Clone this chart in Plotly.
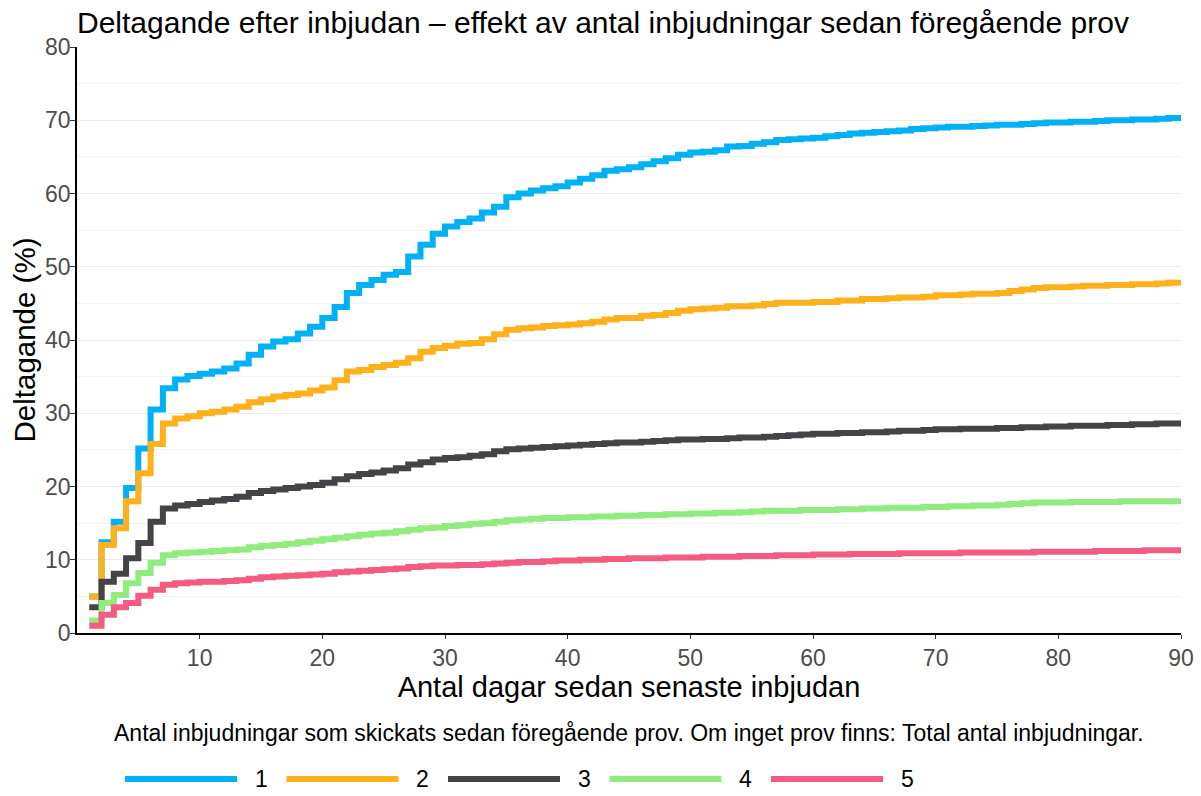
import plotly.graph_objects as go

days = list(range(1, 91))

series_names = ["1", "2", "3", "4", "5"]
series_colors = ["#00B2F5", "#FFB11B", "#434348", "#90ED7D", "#F45B80"]

v1 = [5.0, 12.4, 15.2, 19.8, 25.2, 30.5, 33.4, 34.6, 35.1, 35.4,
      35.7, 36.1, 36.8, 38.0, 39.1, 39.8, 40.1, 40.9, 41.8, 43.0,
      44.5, 46.4, 47.5, 48.2, 48.9, 49.3, 51.4, 53.0, 54.5, 55.5,
      56.1, 56.6, 57.4, 58.2, 59.5, 60.0, 60.4, 60.7, 61.0, 61.5,
      62.0, 62.5, 63.1, 63.3, 63.6, 64.0, 64.4, 64.8, 65.3, 65.6,
      65.7, 65.9, 66.4, 66.5, 66.8, 67.0, 67.3, 67.4, 67.5, 67.6,
      67.8, 68.0, 68.2, 68.3, 68.4, 68.5, 68.6, 68.8, 68.9, 69.0,
      69.1, 69.1, 69.2, 69.3, 69.4, 69.4, 69.5, 69.6, 69.7, 69.7,
      69.8, 69.8, 69.9, 70.0, 70.0, 70.1, 70.1, 70.2, 70.3, 70.3]

v2 = [5.0, 12.0, 14.3, 18.0, 21.8, 25.8, 28.6, 29.3, 29.6, 30.0,
      30.2, 30.5, 30.9, 31.5, 31.9, 32.3, 32.5, 32.7, 33.1, 33.5,
      34.5, 35.7, 35.9, 36.3, 36.6, 36.9, 37.5, 38.4, 38.9, 39.2,
      39.5, 39.6, 40.1, 40.8, 41.4, 41.6, 41.7, 41.9, 42.0, 42.1,
      42.3, 42.5, 42.8, 43.0, 43.0, 43.3, 43.4, 43.7, 44.0, 44.2,
      44.3, 44.4, 44.6, 44.6, 44.7, 44.9, 45.1, 45.1, 45.1, 45.2,
      45.2, 45.4, 45.4, 45.6, 45.6, 45.7, 45.8, 45.8, 45.9, 46.1,
      46.1, 46.2, 46.3, 46.3, 46.4, 46.7, 46.9, 47.1, 47.2, 47.2,
      47.3, 47.4, 47.4, 47.5, 47.5, 47.6, 47.6, 47.7, 47.8, 47.9]

v3 = [3.5, 7.0, 8.1, 10.2, 12.3, 15.2, 17.0, 17.4, 17.6, 17.9,
      18.1, 18.3, 18.6, 19.1, 19.4, 19.6, 19.8, 20.0, 20.2, 20.5,
      21.0, 21.4, 21.7, 21.9, 22.2, 22.5, 23.0, 23.3, 23.7, 23.9,
      24.0, 24.2, 24.4, 24.8, 25.1, 25.2, 25.3, 25.4, 25.5, 25.6,
      25.7, 25.8, 25.9, 26.0, 26.0, 26.1, 26.2, 26.3, 26.4, 26.4,
      26.5, 26.5, 26.6, 26.7, 26.7, 26.8, 26.9, 27.0, 27.1, 27.2,
      27.2, 27.3, 27.3, 27.4, 27.4, 27.5, 27.6, 27.6, 27.7, 27.8,
      27.8, 27.9, 27.9, 27.9, 28.0, 28.0, 28.1, 28.1, 28.2, 28.2,
      28.3, 28.3, 28.3, 28.4, 28.4, 28.5, 28.5, 28.6, 28.6, 28.7]

v4 = [1.7, 4.1, 5.2, 6.8, 8.2, 9.6, 10.6, 10.9, 11.0, 11.1,
      11.2, 11.3, 11.4, 11.7, 11.9, 12.0, 12.2, 12.4, 12.6, 12.8,
      13.0, 13.2, 13.4, 13.6, 13.7, 13.9, 14.1, 14.3, 14.4, 14.6,
      14.7, 14.9, 15.0, 15.2, 15.4, 15.5, 15.6, 15.7, 15.7, 15.8,
      15.8, 15.9, 15.9, 16.0, 16.0, 16.1, 16.1, 16.2, 16.2, 16.3,
      16.3, 16.4, 16.4, 16.5, 16.6, 16.7, 16.7, 16.7, 16.8, 16.8,
      16.8, 16.9, 16.9, 17.0, 17.0, 17.1, 17.1, 17.1, 17.2, 17.2,
      17.3, 17.3, 17.4, 17.4, 17.5, 17.6, 17.7, 17.8, 17.8, 17.8,
      17.9, 17.9, 17.9, 17.9, 18.0, 18.0, 18.0, 18.0, 18.0, 18.1]

v5 = [1.0, 2.5, 3.5, 4.1, 5.1, 5.9, 6.6, 6.8, 6.9, 7.0,
      7.0, 7.1, 7.2, 7.4, 7.6, 7.7, 7.8, 7.9, 8.0, 8.1,
      8.3, 8.4, 8.5, 8.6, 8.7, 8.8, 9.0, 9.1, 9.2, 9.2,
      9.3, 9.3, 9.4, 9.5, 9.6, 9.7, 9.7, 9.8, 9.9, 9.9,
      10.0, 10.0, 10.1, 10.1, 10.2, 10.2, 10.2, 10.3, 10.3, 10.3,
      10.4, 10.4, 10.4, 10.5, 10.5, 10.5, 10.6, 10.6, 10.6, 10.7,
      10.7, 10.7, 10.8, 10.8, 10.8, 10.8, 10.9, 10.9, 10.9, 10.9,
      10.9, 11.0, 11.0, 11.0, 11.0, 11.0, 11.0, 11.1, 11.1, 11.1,
      11.1, 11.1, 11.2, 11.2, 11.2, 11.2, 11.3, 11.3, 11.3, 11.3]

series_values = [v1, v2, v3, v4, v5]

x_ticks = [10, 20, 30, 40, 50, 60, 70, 80, 90]
y_ticks = [0, 10, 20, 30, 40, 50, 60, 70, 80]

title_text = "Deltagande efter inbjudan \u2013 effekt av antal inbjudningar sedan föregående prov"
x_title = "Antal dagar sedan senaste inbjudan"
y_title = "Deltagande (%)"
legend_title = "Antal inbjudningar som skickats sedan föregående prov. Om inget prov finns: Total antal inbjudningar."

FONT = "Liberation Sans, Arial, Helvetica, sans-serif"
W, H = 1201, 796
ML, MR, MT, MB = 77, 20, 47, 163
PW, PH = W - ML - MR, H - MT - MB

fig = go.Figure()
for name, color, vals in zip(series_names, series_colors, series_values):
    fig.add_trace(go.Scatter(
        x=days, y=vals, name=name, mode="lines",
        line=dict(color=color, width=6, shape="hv"),
        showlegend=False,
    ))

# Custom legend (long key lines like the reference)
def px_to_paper_x(px):
    return (px - ML) / PW

def py_to_paper_y(py):
    return (H - MB - py) / PH

key_start = 125
key_len = 112
key_step = 161.5
key_text_off = 136
key_y = py_to_paper_y(779)

shapes = []
annotations = []
for i, (name, color) in enumerate(zip(series_names, series_colors)):
    x0 = key_start + i * key_step
    shapes.append(dict(type="line", xref="paper", yref="paper",
                       x0=px_to_paper_x(x0), x1=px_to_paper_x(x0 + key_len),
                       y0=key_y, y1=key_y,
                       line=dict(color=color, width=6)))
    annotations.append(dict(text=name, xref="paper", yref="paper",
                            x=px_to_paper_x(x0 + key_text_off), y=key_y,
                            xanchor="center", yanchor="middle", showarrow=False,
                            font=dict(size=23, color="#000000", family=FONT)))

annotations.append(dict(text=legend_title, xref="paper", yref="paper",
                        x=0.5, y=py_to_paper_y(733), xanchor="center", yanchor="middle",
                        showarrow=False, font=dict(size=23, color="#000000", family=FONT)))

fig.update_layout(
    width=W, height=H,
    margin=dict(l=ML, r=MR, t=MT, b=MB, autoexpand=False),
    paper_bgcolor="white", plot_bgcolor="white",
    font=dict(family=FONT, color="#000000"),
    title=dict(text=title_text, x=ML / W, xanchor="left", y=1 - 22 / H, yanchor="middle",
               font=dict(size=30, color="#000000", family=FONT)),
    shapes=shapes, annotations=annotations,
    showlegend=False,
)

fig.update_xaxes(
    range=[0, 90], tickvals=x_ticks, ticktext=[str(t) for t in x_ticks],
    showgrid=False, zeroline=False, automargin=False,
    showline=True, linecolor="#000000", linewidth=1.5,
    ticks="outside", ticklen=4, tickcolor="#333333", tickwidth=1,
    tickfont=dict(size=23, color="#4D4D4D", family=FONT),
    title=dict(text=x_title, font=dict(size=29, color="#000000", family=FONT), standoff=6),
)
fig.update_yaxes(
    range=[0, 80], tickvals=y_ticks, ticktext=[str(t) for t in y_ticks],
    showgrid=True, gridcolor="#EBEBEB", gridwidth=1.2, zeroline=False, automargin=False,
    minor=dict(dtick=5, showgrid=True, gridcolor="#F2F2F2", gridwidth=1),
    showline=True, linecolor="#000000", linewidth=1.5,
    ticks="outside", ticklen=5, tickcolor="#333333", tickwidth=1,
    ticklabelstandoff=-5,
    tickfont=dict(size=23, color="#4D4D4D", family=FONT),
    title=dict(text=y_title, font=dict(size=29.5, color="#000000", family=FONT), standoff=1),
)

fig.write_html(
    "out.html",
    config={"displayModeBar": False},
    post_script="document.body.style.margin='0px';document.body.style.overflow='hidden';",
)
